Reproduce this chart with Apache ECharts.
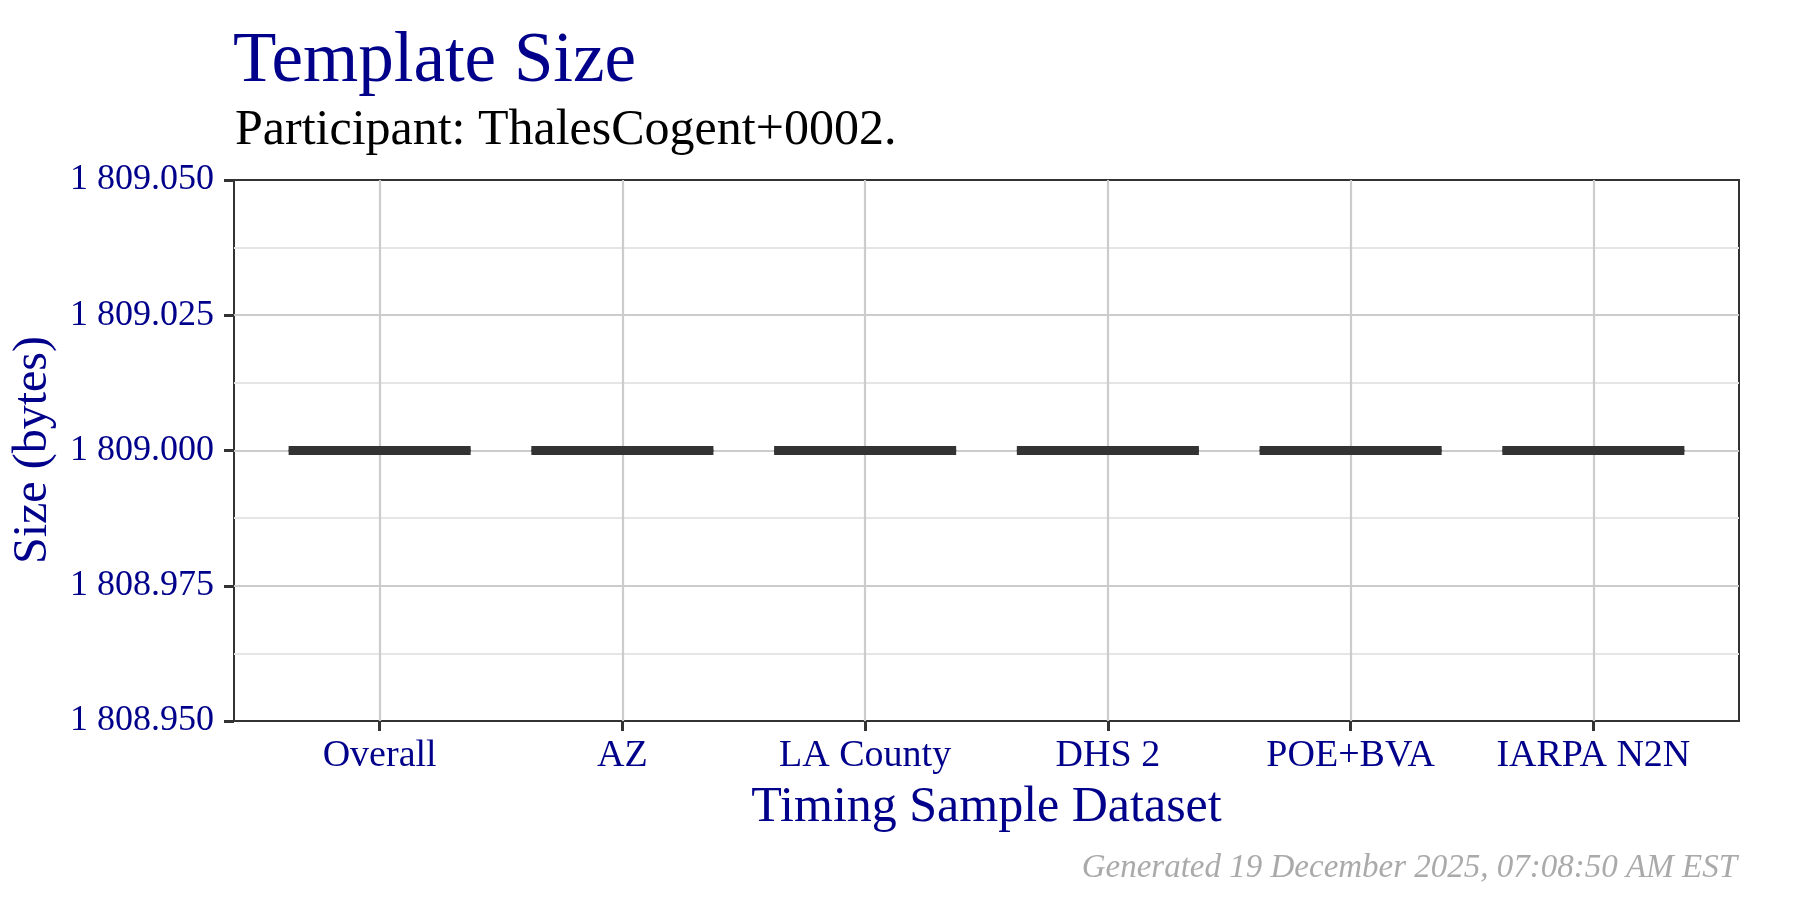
<!DOCTYPE html>
<html>
<head>
<meta charset="utf-8">
<script src="https://cdn.jsdelivr.net/npm/echarts@6/dist/echarts.min.js"></script>
<style>html,body{margin:0;padding:0;background:#fff}#c{width:1800px;height:900px}</style>
</head>
<body>
<div id="c"></div>
<script>
// ---- data ----
const categories = ['Overall', 'AZ', 'LA County', 'DHS 2', 'POE+BVA', 'IARPA N2N'];
const whiskerLow = [1809, 1809, 1809, 1809, 1809, 1809];
const quartile1  = [1809, 1809, 1809, 1809, 1809, 1809];
const medians    = [1809, 1809, 1809, 1809, 1809, 1809];
const quartile3  = [1809, 1809, 1809, 1809, 1809, 1809];
const whiskerHigh= [1809, 1809, 1809, 1809, 1809, 1809];
const yMin = 1808.95, yMax = 1809.05, yStep = 0.025;

const FONT = '"Liberation Serif", "DejaVu Serif", serif';
const BLUE = '#00008B';

function fmt(v) {
  const s = Number(v).toFixed(3);
  const parts = s.split('.');
  return parts[0].replace(/\B(?=(\d{3})+(?!\d))/g, ' ') + '.' + parts[1];
}

const boxData = categories.map((c, i) => [i, whiskerLow[i], quartile1[i], medians[i], quartile3[i], whiskerHigh[i]]);

const chart = echarts.init(document.getElementById('c'), null, {renderer: 'canvas'});
const unit = (1739 - 234) / 6.2;

chart.setOption({
  backgroundColor: '#fff',
  animation: false,
  title: [
    {text: 'Template Size', left: 228, top: 22,
     textStyle: {fontFamily: FONT, fontSize: 71, fontWeight: 'normal', color: BLUE}},
    {text: 'Participant: ThalesCogent+0002.', left: 230, top: 101,
     textStyle: {fontFamily: FONT, fontSize: 50, fontWeight: 'normal', color: '#000'}},
    {text: 'Generated 19 December 2025, 07:08:50 AM EST', right: 58, top: 847,
     textStyle: {fontFamily: FONT, fontSize: 33, fontStyle: 'italic', fontWeight: 'normal', color: '#AAAAAA'}}
  ],
  graphic: [
    {type: 'text', left: 9, top: 'middle', rotation: Math.PI / 2,
     style: {text: 'Size (bytes)', font: '48px ' + FONT, fill: BLUE}}
  ],
  grid: [
    {left: 234, right: 61, top: 180, bottom: 179, show: true, borderColor: '#333', borderWidth: 2, backgroundColor: 'transparent'},
    {left: 234 + 0.6 * unit, right: 61 + 0.6 * unit, top: 180, bottom: 179}
  ],
  xAxis: [
    {gridIndex: 0, type: 'value', min: 0, max: 1, show: false},
    {gridIndex: 1, type: 'category', data: categories, boundaryGap: false,
     axisLine: {show: false},
     axisTick: {show: true, interval: 0, length: 10, lineStyle: {color: '#333', width: 3}},
     axisLabel: {interval: 0, fontFamily: FONT, fontSize: 38, color: BLUE, margin: 16},
     splitLine: {show: true, interval: 0, lineStyle: {color: '#CCCCCC', width: 2.2}},
     name: 'Timing Sample Dataset', nameLocation: 'middle', nameGap: 62,
     nameTextStyle: {fontFamily: FONT, fontSize: 50, color: BLUE}}
  ],
  yAxis: [
    {gridIndex: 0, type: 'value', min: yMin, max: yMax, interval: yStep,
     axisLine: {show: false},
     axisTick: {show: true, length: 10, lineStyle: {color: '#333', width: 3}},
     axisLabel: {fontFamily: FONT, fontSize: 36, color: BLUE, margin: 20, formatter: fmt},
     splitLine: {show: true, showMinLine: false, showMaxLine: false, lineStyle: {color: '#CCCCCC', width: 2.2}},
     minorTick: {show: false, splitNumber: 2},
     minorSplitLine: {show: true, lineStyle: {color: '#E5E5E5', width: 1.8}}},
    {gridIndex: 1, type: 'value', min: yMin, max: yMax, show: false}
  ],
  series: [{
    type: 'custom',
    xAxisIndex: 1, yAxisIndex: 1,
    data: boxData,
    encode: {x: 0, y: [1, 2, 3, 4, 5]},
    renderItem: function (params, api) {
      const x = api.value(0);
      const pMin = api.coord([x, api.value(1)]);
      const pQ1 = api.coord([x, api.value(2)]);
      const pMed = api.coord([x, api.value(3)]);
      const pQ3 = api.coord([x, api.value(4)]);
      const pMax = api.coord([x, api.value(5)]);
      const bw = api.size([1, 0])[0] * 0.75;
      const cx = pMed[0];
      return {type: 'group', children: [
        {type: 'line', shape: {x1: cx, y1: pMax[1], x2: cx, y2: pQ3[1]}, style: {stroke: '#333', lineWidth: 2}},
        {type: 'line', shape: {x1: cx, y1: pQ1[1], x2: cx, y2: pMin[1]}, style: {stroke: '#333', lineWidth: 2}},
        {type: 'rect', shape: {x: cx - bw / 2, y: pQ3[1], width: bw, height: pQ1[1] - pQ3[1]}, style: {fill: '#fff', stroke: '#333', lineWidth: 2}},
        {type: 'line', shape: {x1: cx - bw / 2, y1: pMed[1], x2: cx + bw / 2, y2: pMed[1]}, style: {stroke: '#333', lineWidth: 9}}
      ]};
    }
  }]
});
</script>
</body>
</html>
